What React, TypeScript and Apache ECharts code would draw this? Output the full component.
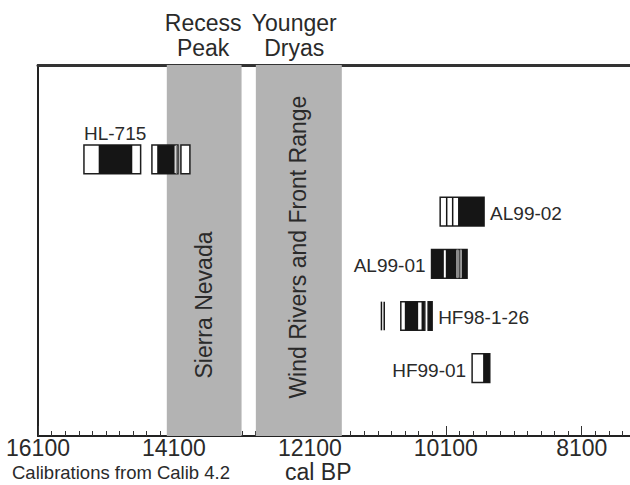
import React, { useEffect, useRef } from "react";
import * as echarts from "echarts";

// ---- axis ----
const xMin = 7390;
const xMax = 16100;
const majorTicks = [16100, 14100, 12100, 10100, 8100];
const minorStep = 200;
const yMin = -1.81;
const yMax = 5.3;

// ---- climate intervals (cal BP) ----
const bandRanges = [
  [14205, 13105],
  [12895, 11630],
];
const bandTopNames = ["Recess\nPeak", "Younger\nDryas"];
const bandTopYears = [13670, 12330];
const bandSideNames = ["Sierra Nevada", "Wind Rivers and Front Range"];
const bandSideYears = [13655, 12275];
const bandSideRows = [2.79, 1.68];

// ---- calibrated dates: outline ranges, dark ranges, mid-grey ranges ----
const sampleNames = ["HL-715", "AL99-02", "AL99-01", "HF98-1-26", "HF99-01"];
const hl715Ranges = [[15424, 14590], [14424, 14041], [13997, 13865]];
const hl715Dark = [[15207, 14713], [14346, 14090]];
const hl715Mid = [[14075, 14052]];
const al9902Ranges = [[10183, 9537]];
const al9902Dark = [[10098, 10076], [10010, 9988], [9920, 9537]];
const al9902Mid: number[][] = [];
const al9901Ranges = [[10310, 9787]];
const al9901Dark = [[10310, 10129], [10100, 9943], [9913, 9894], [9865, 9787]];
const al9901Mid = [[9943, 9913], [9894, 9865]];
const hf98Ranges = [[10762, 10409], [10360, 10301]];
const hf98Dark = [[11058, 11036], [11017, 10995], [10703, 10507], [10457, 10420], [10360, 10301]];
const hf98Mid: number[][] = [];
const hf99Ranges = [[9713, 9453]];
const hf99Dark = [[9551, 9453]];
const hf99Mid: number[][] = [];

const sampleRanges = [hl715Ranges, al9902Ranges, al9901Ranges, hf98Ranges, hf99Ranges];
const sampleDark = [hl715Dark, al9902Dark, al9901Dark, hf98Dark, hf99Dark];
const sampleMid = [hl715Mid, al9902Mid, al9901Mid, hf98Mid, hf99Mid];
const labelAnchors = [15424, 9537, 10310, 10301, 9713];
const labelSides = ["above", "right", "left", "right", "left"];

const FONT = "'Liberation Sans', Arial, sans-serif";
const TEXT = "#2a2a2a";

export default function App() {
  const ref = useRef<HTMLDivElement>(null);
  useEffect(() => {
    if (!ref.current) return;
    const chart = echarts.init(ref.current, undefined, { renderer: "svg" });

    const minorTicks: number[] = [];
    for (let v = xMax; v > xMin; v -= minorStep) minorTicks.push(v);

    const boxData: any[] = [];
    sampleRanges.forEach((rs, row) => rs.forEach((r) => boxData.push([r[0], r[1], row, 0])));
    sampleDark.forEach((rs, row) => rs.forEach((r) => boxData.push([r[0], r[1], row, 1])));
    sampleMid.forEach((rs, row) => rs.forEach((r) => boxData.push([r[0], r[1], row, 2])));

    const labelData = sampleNames.map((n, i) => [labelAnchors[i], i, n, labelSides[i]]);
    const bandData = bandRanges.map((b) => [b[0], b[1]]);
    const topData = bandTopNames.map((n, i) => [bandTopYears[i], n]);
    const sideData = bandSideNames.map((n, i) => [bandSideYears[i], bandSideRows[i], n]);

    const boxH = 0.55;

    const xBase = {
      type: "value",
      min: xMin,
      max: xMax,
      inverse: true,
      splitLine: { show: false },
    };

    chart.setOption({
      animation: false,
      grid: { left: 38, right: 0, top: 65, bottom: 49 },
      xAxis: [
        {
          ...xBase,
          position: "bottom",
          axisLine: { show: true, onZero: false, lineStyle: { color: "#222", width: 2 } },
          axisTick: { show: true, inside: true, length: 5, customValues: minorTicks, lineStyle: { color: "#333", width: 1 } },
          axisLabel: { show: false },
        },
        {
          ...xBase,
          position: "bottom",
          axisLine: { show: false, onZero: false },
          axisTick: { show: true, inside: true, length: 10, customValues: majorTicks, lineStyle: { color: "#333", width: 1 } },
          axisLabel: {
            show: true,
            customValues: majorTicks,
            formatter: (v: number) => String(v),
            fontSize: 23,
            lineHeight: 20,
            fontFamily: FONT,
            color: TEXT,
            margin: 2,
          },
        },
        {
          ...xBase,
          position: "top",
          axisLine: { show: true, onZero: false, lineStyle: { color: "#333", width: 3 } },
          axisTick: { show: false },
          axisLabel: { show: false },
        },
      ],
      yAxis: {
        type: "value",
        min: yMin,
        max: yMax,
        inverse: true,
        axisLine: { show: true, onZero: false, lineStyle: { color: "#222", width: 2 } },
        axisTick: { show: false },
        axisLabel: { show: false },
        splitLine: { show: false },
      },
      graphic: [
        { type: "text", left: 12, top: 463, style: { text: "Calibrations from Calib 4.2", fontSize: 18.5, lineHeight: 16, fontFamily: FONT, fill: TEXT } },
        { type: "text", left: 285, top: 460, style: { text: "cal BP", fontSize: 23, lineHeight: 19, fontFamily: FONT, fill: TEXT } },
      ],
      series: [
        {
          type: "custom",
          z: 1,
          data: bandData,
          renderItem: (params: any, api: any) => {
            const p1 = api.coord([api.value(0), yMin]);
            const p2 = api.coord([api.value(1), yMax]);
            return {
              type: "rect",
              shape: { x: p1[0], y: p1[1], width: p2[0] - p1[0], height: p2[1] - p1[1] },
              style: { fill: "#b3b3b3" },
            };
          },
        },
        {
          type: "custom",
          z: 2,
          data: sideData,
          renderItem: (params: any, api: any) => {
            const p = api.coord([api.value(0), api.value(1)]);
            return {
              type: "text",
              x: p[0],
              y: p[1],
              rotation: Math.PI / 2,
              style: {
                text: sideData[params.dataIndex][2],
                fontSize: 23,
                fontFamily: FONT,
                fill: TEXT,
                align: "center",
                verticalAlign: "middle",
              },
            };
          },
        },
        {
          type: "custom",
          z: 2,
          data: topData,
          renderItem: (params: any, api: any) => {
            const p = api.coord([api.value(0), yMin]);
            return {
              type: "text",
              x: p[0],
              y: p[1] - 55,
              style: {
                text: topData[params.dataIndex][1],
                fontSize: 23,
                lineHeight: 25,
                fontFamily: FONT,
                fill: TEXT,
                align: "center",
                verticalAlign: "top",
              },
            };
          },
        },
        {
          type: "custom",
          z: 3,
          data: boxData,
          renderItem: (params: any, api: any) => {
            const k = api.value(3);
            const p1 = api.coord([api.value(0), api.value(2)]);
            const p2 = api.coord([api.value(1), api.value(2)]);
            const h = api.size([0, boxH])[1];
            const x = Math.min(p1[0], p2[0]);
            const w = Math.abs(p2[0] - p1[0]);
            let style: any;
            if (k === 0) style = { fill: "#ffffff", stroke: "#1e1e1e", lineWidth: 1.5 };
            else if (k === 1) style = { fill: "#151515" };
            else style = { fill: "#8a8a8a" };
            return { type: "rect", shape: { x, y: p1[1] - h / 2, width: w, height: h }, style };
          },
        },
        {
          type: "custom",
          z: 4,
          data: labelData,
          renderItem: (params: any, api: any) => {
            const d = labelData[params.dataIndex];
            const side = d[3];
            const p = api.coord([api.value(0), api.value(1)]);
            let x = p[0];
            let y = p[1] + 2;
            let align = "left";
            if (side === "right") x = p[0] + 6;
            else if (side === "left") {
              x = p[0] - 6;
              align = "right";
            } else {
              y = p[1] - 26;
            }
            return {
              type: "text",
              x,
              y,
              style: {
                text: d[2],
                fontSize: 19,
                fontFamily: FONT,
                fill: TEXT,
                align,
                verticalAlign: "middle",
              },
            };
          },
        },
      ],
    });
    return () => chart.dispose();
  }, []);
  return (
    <div
      ref={ref}
      style={{ position: "absolute", left: 0, top: 0, width: 630, height: 485, background: "#fff" }}
    />
  );
}
